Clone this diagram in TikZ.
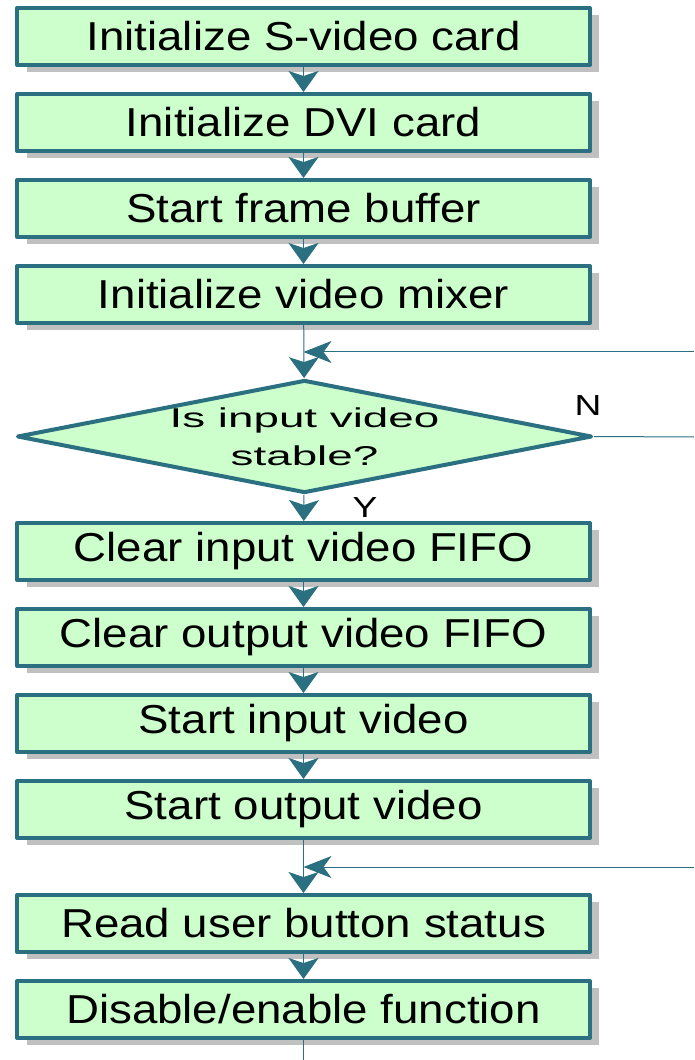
\documentclass[tikz,border=0pt]{standalone}
\usepackage{fontspec}
\setmainfont{Liberation Sans}
\newfontfamily\boxfont[FakeStretch=1.13]{Liberation Sans}
\newfontfamily\decfont[FakeStretch=1.68]{Liberation Sans}
\newfontfamily\ynfont[FakeStretch=1.28]{Liberation Sans}
\usetikzlibrary{shapes.geometric,shadows,arrows.meta}

\definecolor{flowline}{RGB}{43,112,128}
\definecolor{flowfill}{RGB}{204,255,204}
\definecolor{flowshadow}{RGB}{192,192,192}

\begin{document}
\begin{tikzpicture}[
    x=0.02cm, y=-0.02cm,
    stepbox/.style={draw=flowline, fill=flowfill, line width=0.08cm, line join=round, rectangle,
        minimum width=11.46cm, minimum height=1.14cm, inner sep=0pt,
        drop shadow={shadow xshift=0.19cm, shadow yshift=-0.14cm, fill=flowshadow, opacity=1},
        font=\boxfont\fontsize{23}{27}\selectfont},
    decbox/.style={draw=flowline, fill=flowfill, line width=0.08cm, line join=round, diamond,
        minimum width=11.5cm, minimum height=2.26cm, inner sep=0pt},
    flow/.style={draw=flowline, line width=0.02cm},
    downtip/.style={-{Stealth[length=0.42cm, width=0.6cm, inset=0.1cm]}},
    lefttip/.style={-{Stealth[length=0.56cm, width=0.44cm, inset=0.16cm]}},
]
\useasboundingbox (0,0) rectangle (694,1060);

% Initialization steps
\node[stepbox] (svideo) at (303.5, 36.5) {Initialize S-video card};
\node[stepbox] (dvi) at (303.5, 122.5) {Initialize DVI card};
\node[stepbox] (frame) at (303.5, 208.5) {Start frame buffer};
\node[stepbox] (mixer) at (303.5, 294.5) {Initialize video mixer};

% Decision
\node[decbox] (stable) at (304.5, 436.5) {};
\node[font=\decfont\fontsize{15.5}{21.6}\selectfont, align=center] (stabletext) at (304.5, 436.5)
      {Is input video\\stable?};
\node[font=\ynfont\fontsize{16.5}{20}\selectfont] (nolabel) at (588, 406) {N};
\node[font=\ynfont\fontsize{16.5}{20}\selectfont] (yeslabel) at (365, 508) {Y};

% Video steps
\node[stepbox] (clrin) at (303.5, 551.5) {Clear input video FIFO};
\node[stepbox] (clrout) at (303.5, 637.5) {Clear output video FIFO};
\node[stepbox] (startin) at (303.5, 723.5) {Start input video};
\node[stepbox] (startout) at (303.5, 809.5) {Start output video};

% Button loop
\node[stepbox] (button) at (303.5, 923.5) {Read user button status};
\node[stepbox] (enable) at (303.5, 1009.5) {Disable/enable function};

% Loop ends
\coordinate (backA) at (694, 352);
\coordinate (joinA) at (303.5, 352);
\coordinate (noend) at (694, 437);
\coordinate (backB) at (694, 867);
\coordinate (joinB) at (303.5, 867);
\coordinate (goon) at (303.5, 1060);

% Connectors
\draw[flow, downtip] (svideo) -- (dvi);
\draw[flow, downtip] (dvi) -- (frame);
\draw[flow, downtip] (frame) -- (mixer);
\draw[flow, downtip] (mixer) -- (stable);
\draw[flow, lefttip] (backA) -- (joinA);
\draw[flow] (stable.east) -- (noend);
\draw[flow, downtip] (stable) -- (clrin);
\draw[flow, downtip] (clrin) -- (clrout);
\draw[flow, downtip] (clrout) -- (startin);
\draw[flow, downtip] (startin) -- (startout);
\draw[flow, downtip] (startout) -- (button);
\draw[flow, lefttip] (backB) -- (joinB);
\draw[flow, downtip] (button) -- (enable);
\draw[flow] (enable) -- (goon);

\end{tikzpicture}
\end{document}
